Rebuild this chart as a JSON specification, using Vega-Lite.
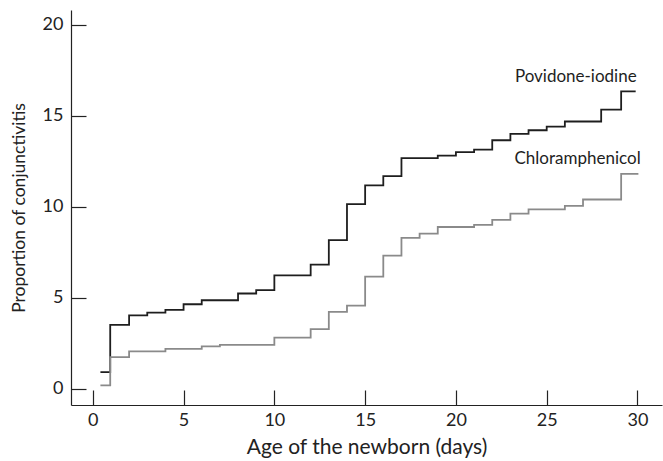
{
  "$schema": "https://vega.github.io/schema/vega-lite/v6.json",
  "width": 591,
  "height": 395,
  "autosize": {"type": "none"},
  "padding": {"left": 71, "top": 10, "right": 1, "bottom": 56},
  "background": "white",
  "config": {
    "view": {"stroke": null},
    "font": "Lato",
    "axis": {
      "grid": false,
      "domainColor": "#222222",
      "domainWidth": 1.2,
      "tickColor": "#222222",
      "tickWidth": 1.2,
      "labelColor": "#222222",
      "titleColor": "#222222",
      "labelFont": "Lato",
      "titleFont": "Lato",
      "titleFontWeight": "normal",
      "labelFontSize": 18
    }
  },
  "datasets": {
    "curves": [
      {"day": 0.42, "value": 0.92, "series": "Povidone-iodine"},
      {"day": 0.96, "value": 3.52, "series": "Povidone-iodine"},
      {"day": 2, "value": 4.04, "series": "Povidone-iodine"},
      {"day": 3, "value": 4.19, "series": "Povidone-iodine"},
      {"day": 4, "value": 4.34, "series": "Povidone-iodine"},
      {"day": 5, "value": 4.65, "series": "Povidone-iodine"},
      {"day": 6, "value": 4.87, "series": "Povidone-iodine"},
      {"day": 8, "value": 5.24, "series": "Povidone-iodine"},
      {"day": 9, "value": 5.43, "series": "Povidone-iodine"},
      {"day": 10, "value": 6.23, "series": "Povidone-iodine"},
      {"day": 12, "value": 6.83, "series": "Povidone-iodine"},
      {"day": 13, "value": 8.17, "series": "Povidone-iodine"},
      {"day": 14, "value": 10.14, "series": "Povidone-iodine"},
      {"day": 15, "value": 11.17, "series": "Povidone-iodine"},
      {"day": 16, "value": 11.68, "series": "Povidone-iodine"},
      {"day": 17, "value": 12.67, "series": "Povidone-iodine"},
      {"day": 19, "value": 12.81, "series": "Povidone-iodine"},
      {"day": 20, "value": 13.0, "series": "Povidone-iodine"},
      {"day": 21, "value": 13.14, "series": "Povidone-iodine"},
      {"day": 22, "value": 13.65, "series": "Povidone-iodine"},
      {"day": 23, "value": 14.0, "series": "Povidone-iodine"},
      {"day": 24, "value": 14.2, "series": "Povidone-iodine"},
      {"day": 25, "value": 14.4, "series": "Povidone-iodine"},
      {"day": 26, "value": 14.68, "series": "Povidone-iodine"},
      {"day": 28, "value": 15.33, "series": "Povidone-iodine"},
      {"day": 29.1, "value": 16.33, "series": "Povidone-iodine"},
      {"day": 29.9, "value": 16.33, "series": "Povidone-iodine"},
      {"day": 0.42, "value": 0.2, "series": "Chloramphenicol"},
      {"day": 0.96, "value": 1.75, "series": "Chloramphenicol"},
      {"day": 2, "value": 2.06, "series": "Chloramphenicol"},
      {"day": 4, "value": 2.2, "series": "Chloramphenicol"},
      {"day": 6, "value": 2.34, "series": "Chloramphenicol"},
      {"day": 7, "value": 2.42, "series": "Chloramphenicol"},
      {"day": 10, "value": 2.82, "series": "Chloramphenicol"},
      {"day": 12, "value": 3.28, "series": "Chloramphenicol"},
      {"day": 13, "value": 4.23, "series": "Chloramphenicol"},
      {"day": 14, "value": 4.57, "series": "Chloramphenicol"},
      {"day": 15, "value": 6.17, "series": "Chloramphenicol"},
      {"day": 16, "value": 7.32, "series": "Chloramphenicol"},
      {"day": 17, "value": 8.29, "series": "Chloramphenicol"},
      {"day": 18, "value": 8.53, "series": "Chloramphenicol"},
      {"day": 19, "value": 8.89, "series": "Chloramphenicol"},
      {"day": 21, "value": 9.01, "series": "Chloramphenicol"},
      {"day": 22, "value": 9.28, "series": "Chloramphenicol"},
      {"day": 23, "value": 9.62, "series": "Chloramphenicol"},
      {"day": 24, "value": 9.86, "series": "Chloramphenicol"},
      {"day": 26, "value": 10.05, "series": "Chloramphenicol"},
      {"day": 27, "value": 10.4, "series": "Chloramphenicol"},
      {"day": 29.1, "value": 11.81, "series": "Chloramphenicol"},
      {"day": 30.05, "value": 11.81, "series": "Chloramphenicol"}
    ],
    "labels": [
      {"day": 26.6, "value": 17.15, "label": "Povidone-iodine"},
      {"day": 26.7, "value": 12.6, "label": "Chloramphenicol"}
    ]
  },
  "layer": [
    {
      "data": {"name": "curves"},
      "mark": {"type": "line", "interpolate": "step-after", "strokeWidth": 1.8},
      "encoding": {
        "x": {
          "field": "day",
          "type": "quantitative",
          "scale": {"domain": [-1.2, 31.35], "nice": false, "zero": false},
          "axis": {
            "title": "Age of the newborn (days)",
            "titleFontSize": 21,
            "values": [0, 5, 10, 15, 20, 25, 30],
            "tickSize": -15,
            "labelPadding": 21,
            "titlePadding": 7
          }
        },
        "y": {
          "field": "value",
          "type": "quantitative",
          "scale": {"domain": [-0.88, 20.8], "nice": false, "zero": false},
          "axis": {
            "title": "Proportion of conjunctivitis",
            "titleFontSize": 17.5,
            "values": [0, 5, 10, 15, 20],
            "tickSize": -15,
            "labelPadding": 23,
            "titlePadding": 14
          }
        },
        "color": {
          "field": "series",
          "type": "nominal",
          "scale": {"domain": ["Povidone-iodine", "Chloramphenicol"], "range": ["#1e1e1e", "#8a8a8a"]},
          "legend": null
        }
      }
    },
    {
      "data": {"name": "labels"},
      "mark": {"type": "text", "font": "Lato", "fontSize": 17, "color": "#1e1e1e", "align": "center", "baseline": "middle"},
      "encoding": {
        "x": {"field": "day", "type": "quantitative"},
        "y": {"field": "value", "type": "quantitative"},
        "text": {"field": "label"}
      }
    }
  ]
}
